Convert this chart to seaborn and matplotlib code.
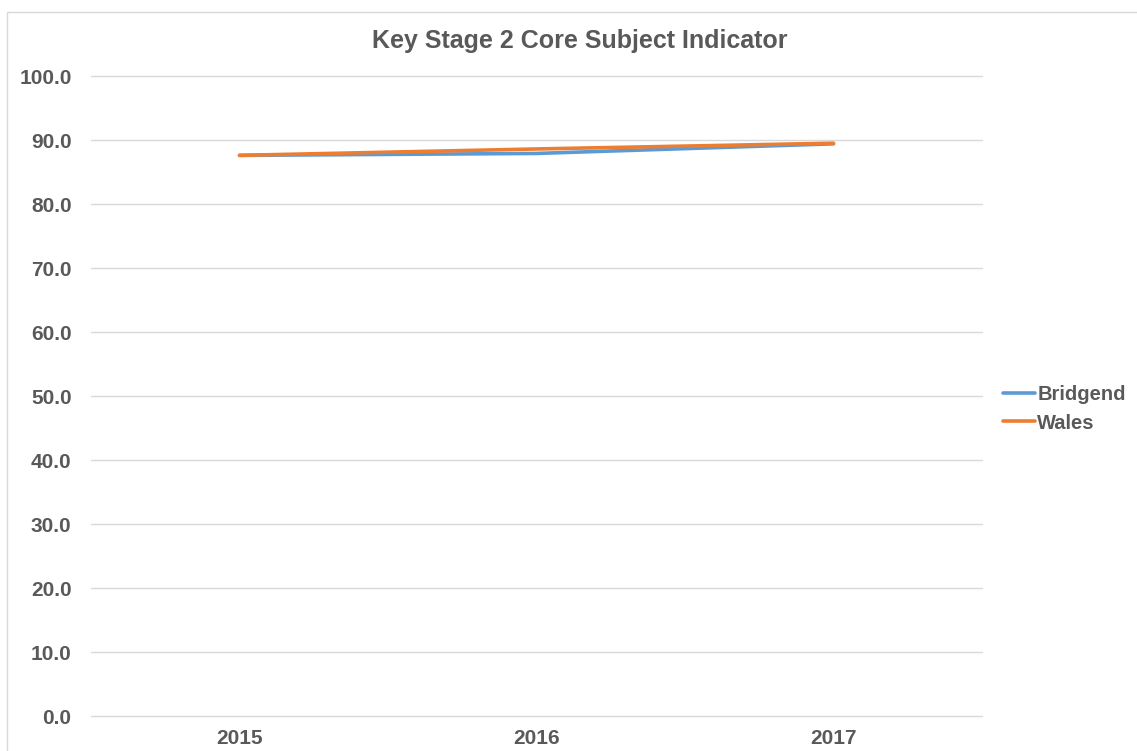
import matplotlib
matplotlib.use("Agg")
import matplotlib.pyplot as plt
import seaborn as sns
import pandas as pd
from matplotlib.patches import Rectangle

years = ["2015", "2016", "2017"]
bridgend = [87.6, 87.9, 89.4]
wales = [87.6, 88.6, 89.5]
series_names = ["Bridgend", "Wales"]
colors = ["#5B9BD5", "#ED7D31"]
yticks = [0, 10, 20, 30, 40, 50, 60, 70, 80, 90, 100]

df = pd.DataFrame({
    "Year": years * 2,
    "x": list(range(len(years))) * 2,
    "Value": bridgend + wales,
    "Series": [series_names[0]] * len(years) + [series_names[1]] * len(years),
})

sns.set_theme(style="white")
plt.rcParams["font.family"] = ["Liberation Sans", "DejaVu Sans"]

W, H = 1137, 751
fig = plt.figure(figsize=(W / 100, H / 100), dpi=100)
ax = fig.add_axes([91 / W, 1 - 716 / H, (982 - 91) / W, (716 - 76) / H])

sns.lineplot(data=df, x="x", y="Value", hue="Series", palette=colors,
             linewidth=2.6, ax=ax, legend=True)

ax.set_xlim(-0.5, 2.5)
ax.set_ylim(0, 100)
ax.set_yticks(yticks)
ax.set_yticklabels([f"{v:.1f}" for v in yticks])
ax.set_xticks(range(len(years)))
ax.set_xticklabels(years)
ax.yaxis.grid(True, color="#D9D9D9", linewidth=1)
for gl in ax.get_ygridlines():
    gl.set_clip_on(False)
ax.xaxis.grid(False)
ax.set_axisbelow(True)
for s in ax.spines.values():
    s.set_visible(False)
ax.tick_params(axis="both", length=0, colors="#595959", labelsize=15)
ax.tick_params(axis="y", pad=14)
ax.tick_params(axis="x", pad=9)
for lab in ax.get_xticklabels() + ax.get_yticklabels():
    lab.set_fontweight("bold")
ax.set_xlabel("")
ax.set_ylabel("")

fig.text(580 / W, 1 - 48 / H, "Key Stage 2 Core Subject Indicator",
         ha="center", va="baseline", fontsize=18, fontweight="bold", color="#595959")

handles, labels = ax.get_legend_handles_labels()
leg = ax.legend(handles, labels, loc="center left",
                bbox_to_anchor=(1003 / W, 1 - 409 / H),
                bbox_transform=fig.transFigure, frameon=False, borderpad=0,
                borderaxespad=0, handlelength=1.6, handletextpad=0.1,
                labelspacing=0.45, prop={"weight": "bold", "size": 14.5})
for t in leg.get_texts():
    t.set_color("#595959")

fig.patches.append(Rectangle((7 / W, -0.1), 1.2, 1.1 - 12 / H, transform=fig.transFigure,
                             fill=False, edgecolor="#D9D9D9", linewidth=1))

fig.savefig("out.png", dpi=100, facecolor="white")
